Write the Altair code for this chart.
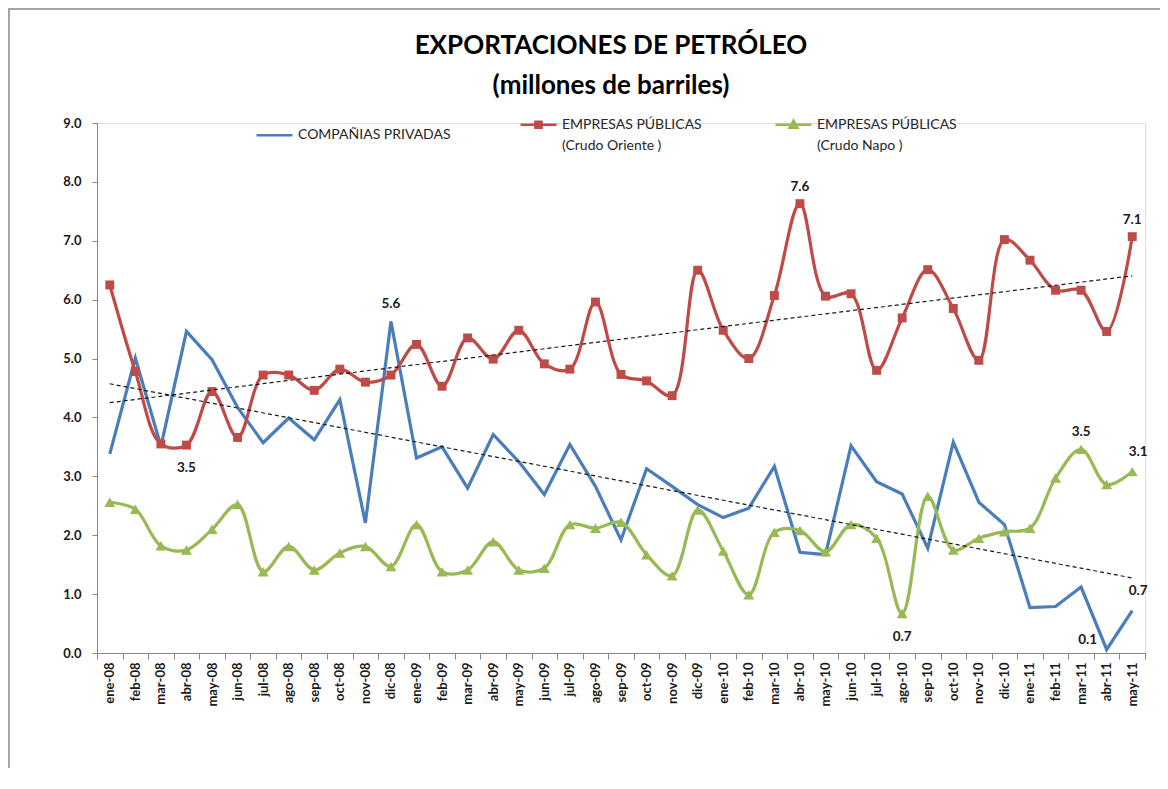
import altair as alt
import pandas as pd

meses = ["ene-08", "feb-08", "mar-08", "abr-08", "may-08", "jun-08", "jul-08", "ago-08", "sep-08", "oct-08", "nov-08", "dic-08",
         "ene-09", "feb-09", "mar-09", "abr-09", "may-09", "jun-09", "jul-09", "ago-09", "sep-09", "oct-09", "nov-09", "dic-09",
         "ene-10", "feb-10", "mar-10", "abr-10", "may-10", "jun-10", "jul-10", "ago-10", "sep-10", "oct-10", "nov-10", "dic-10",
         "ene-11", "feb-11", "mar-11", "abr-11", "may-11"]

privadas = [3.38, 5.01, 3.51, 5.46, 4.98, 4.17, 3.57, 3.99, 3.62, 4.30, 2.21, 5.63,
            3.31, 3.50, 2.80, 3.71, 3.25, 2.69, 3.54, 2.83, 1.92, 3.13, 2.83, 2.52,
            2.30, 2.46, 3.17, 1.71, 1.67, 3.52, 2.91, 2.70, 1.78, 3.58, 2.56, 2.18,
            0.77, 0.79, 1.12, 0.06, 0.72]

oriente = [6.25, 4.78, 3.55, 3.53, 4.44, 3.66, 4.72, 4.72, 4.46, 4.82, 4.60, 4.72,
           5.24, 4.53, 5.35, 4.99, 5.48, 4.91, 4.82, 5.96, 4.73, 4.62, 4.37, 6.50,
           5.48, 5.00, 6.07, 7.63, 6.06, 6.10, 4.80, 5.69, 6.51, 5.85, 4.97, 7.02,
           6.67, 6.16, 6.16, 5.46, 7.07]

napo = [2.56, 2.44, 1.82, 1.75, 2.10, 2.52, 1.38, 1.81, 1.41, 1.70, 1.81, 1.47,
        2.18, 1.38, 1.41, 1.89, 1.41, 1.44, 2.18, 2.12, 2.22, 1.67, 1.31, 2.43,
        1.73, 0.99, 2.05, 2.08, 1.72, 2.18, 1.95, 0.67, 2.66, 1.75, 1.95, 2.06,
        2.12, 2.97, 3.46, 2.86, 3.08]

S_PRIV = "COMPAÑIAS PRIVADAS"
S_ORI = "EMPRESAS  PÚBLICAS|(Crudo Oriente )"
S_NAPO = "EMPRESAS  PÚBLICAS|(Crudo Napo  )"
series = [S_PRIV, S_ORI, S_NAPO]
colores = ["#4A7EBB", "#BE4B48", "#98B954"]

# annotated points (series, month index)
anot_arriba = [(S_PRIV, 11), (S_ORI, 27), (S_ORI, 40), (S_NAPO, 38)]
anot_arriba_der = [(S_NAPO, 40), (S_PRIV, 40)]
anot_abajo = [(S_ORI, 3), (S_NAPO, 31)]
anot_izq = [(S_PRIV, 39)]

rows = []
for s, vals in zip(series, [privadas, oriente, napo]):
    for i, (m, v) in enumerate(zip(meses, vals)):
        rows.append({"idx": i, "mes": m, "serie": s, "valor": v})
df = pd.DataFrame(rows)


def sub(serie):
    return df[df["serie"] == serie]


def pick(keys):
    mask = pd.Series(False, index=df.index)
    for s, i in keys:
        mask |= (df["serie"] == s) & (df["idx"] == i)
    return df[mask]


FONT = "Lato"
arr = "[" + ",".join("'" + m + "'" for m in meses) + "]"
x_values = [k * 0.5 - 0.5 for k in range(2 * len(meses) + 1)]

x_enc = alt.X(
    "idx:Q",
    scale=alt.Scale(domain=[-0.5, len(meses) - 0.5], nice=False, zero=False),
    axis=alt.Axis(
        values=x_values,
        labelExpr="datum.value % 1 === 0 ? " + arr + "[datum.value] : ''",
        labelAngle=-90, labelOverlap=False, labelFlush=False,
        labelFont=FONT, labelFontSize=13, labelFontWeight="bold", labelColor="#1a1a1a",
        labelPadding=3, grid=False, title=None,
        domainColor="#868686", tickColor="#868686", tickSize=6,
        tickOpacity={"condition": {"test": "datum.value % 1 === 0", "value": 0}, "value": 1},
    ),
)
y_enc = alt.Y(
    "valor:Q",
    scale=alt.Scale(domain=[0, 9], nice=False),
    axis=alt.Axis(
        values=list(range(10)), format=".1f", grid=False, title=None,
        domainColor="#868686", tickColor="#868686", tickSize=5,
        labelFont=FONT, labelFontSize=13, labelFontWeight="bold", labelColor="#1a1a1a",
        labelPadding=11,
    ),
)

line_priv = alt.Chart(sub(S_PRIV)).mark_line(color=colores[0], strokeWidth=3.2).encode(x=x_enc, y=y_enc)
line_ori = alt.Chart(sub(S_ORI)).mark_line(color=colores[1], strokeWidth=3.2, interpolate="catmull-rom").encode(x=x_enc, y=y_enc)
line_napo = alt.Chart(sub(S_NAPO)).mark_line(color=colores[2], strokeWidth=3.2, interpolate="catmull-rom").encode(x=x_enc, y=y_enc)

pts_ori = alt.Chart(sub(S_ORI)).mark_point(shape="square", filled=True, size=80, color=colores[1], opacity=1).encode(x=x_enc, y=y_enc)
pts_napo = alt.Chart(sub(S_NAPO)).mark_point(shape="triangle-up", filled=True, size=120, color=colores[2], opacity=1).encode(x=x_enc, y=y_enc)

trend_priv = alt.Chart(sub(S_PRIV)).transform_regression("idx", "valor").mark_line(
    color="#1a1a1a", strokeDash=[4, 3], strokeWidth=1.2).encode(x=x_enc, y=y_enc)
trend_ori = alt.Chart(sub(S_ORI)).transform_regression("idx", "valor").mark_line(
    color="#1a1a1a", strokeDash=[4, 3], strokeWidth=1.2).encode(x=x_enc, y=y_enc)


def labels(data, **kw):
    return alt.Chart(data).mark_text(font=FONT, fontSize=13.5, fontWeight="bold", color="#1a1a1a", **kw).encode(
        x=x_enc, y=y_enc, text=alt.Text("valor:Q", format=".1f"))


lab_up = labels(pick(anot_arriba), dy=-17)
lab_upr = labels(pick(anot_arriba_der), dx=6, dy=-20)
lab_down = labels(pick(anot_abajo), dy=23)
lab_left = labels(pick(anot_izq), dx=-19, dy=-9)

paths = [
    "M-1,-0.22H1",
    "M-1,-0.22H1M-0.17,-0.39H0.17V-0.05H-0.17Z",
    "M-1,-0.22H1M0,-0.45L0.22,-0.06H-0.22Z",
]
leg = alt.Legend(
    title=None, orient="none", legendX=158, legendY=-14, direction="horizontal",
    symbolSize=1296, symbolStrokeWidth=2.5, symbolOpacity=1,
    labelExpr="split(datum.label, '|')", labelFont=FONT, labelFontSize=14, labelColor="#262626",
    labelBaseline="alphabetic", columnPadding=64, labelOffset=4, labelLimit=300,
)
legend_layer = alt.Chart(df).transform_filter("false").mark_point(filled=True, opacity=1).encode(
    x=x_enc, y=y_enc,
    fill=alt.Fill("serie:N", scale=alt.Scale(domain=series, range=colores), legend=leg),
    stroke=alt.Stroke("serie:N", scale=alt.Scale(domain=series, range=colores), legend=leg),
    shape=alt.Shape("serie:N", scale=alt.Scale(domain=series, range=paths), legend=leg),
)

# chart-area frame (top and left edges, as in the spreadsheet picture)
frame_df = pd.DataFrame({"k": [0]})
frame_top = alt.Chart(frame_df).mark_rule(color="#A6A6A6", strokeWidth=2).encode(
    x=alt.value(-89), x2=alt.value(1063), y=alt.value(-114))
frame_left = alt.Chart(frame_df).mark_rule(color="#A6A6A6", strokeWidth=2).encode(
    x=alt.value(-88), y=alt.value(-115), y2=alt.value(645))

chart = alt.layer(
    frame_top, frame_left,
    line_priv, line_ori, line_napo, pts_ori, pts_napo, trend_priv, trend_ori,
    lab_up, lab_upr, lab_down, lab_left, legend_layer,
).properties(
    width=1048, height=530,
    title=alt.TitleParams(
        ["EXPORTACIONES DE PETRÓLEO", "(millones de barriles)"],
        font=FONT, fontSize=26, fontWeight="bold", color="#000000",
        lineHeight=40, anchor="middle", frame="group", offset=-92, dx=-10,
    ),
    padding={"left": 89, "top": 115, "right": 15, "bottom": 115},
    autosize=alt.AutoSizeParams(type="none"),
).configure_view(stroke=None).configure(
    style={"guide-label": {"lineHeight": 21}}
)

chart.save("out.html", embed_options={"renderer": "svg", "actions": False})
